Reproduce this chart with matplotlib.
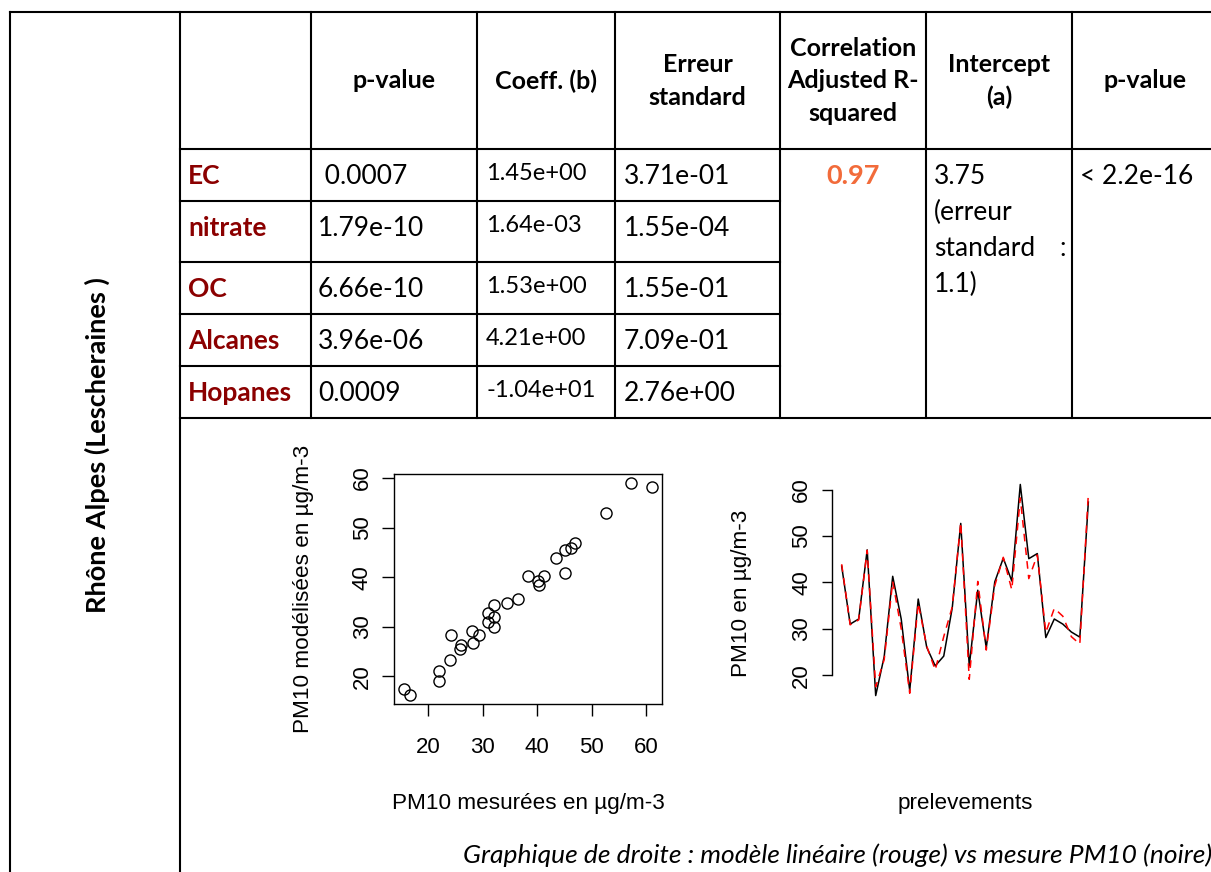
import numpy as np
import matplotlib
matplotlib.use('Agg')
import matplotlib.pyplot as plt

# tableau de la régression linéaire
row_labels = ['EC', 'nitrate', 'OC', 'Alcanes', 'Hopanes']
p_values = [' 0.0007', '1.79e-10', '6.66e-10', '3.96e-06', '0.0009']
coeffs = ['1.45e+00', '1.64e-03', '1.53e+00', '4.21e+00', '-1.04e+01']
std_errs = ['3.71e-01', '1.55e-04', '1.55e-01', '7.09e-01', '2.76e+00']
headers = ['p-value', 'Coeff. (b)', 'Erreur\nstandard',
           'Correlation\nAdjusted R-\nsquared', 'Intercept\n(a)', 'p-value']
adj_r2 = '0.97'
intercept_txt = ['3.75', '(erreur', 'standard   :', '1.1)']
global_pval = '< 2.2e-16'
site = 'Rhône Alpes (Lescheraines )'
caption = 'Graphique de droite : modèle linéaire (rouge) vs mesure PM10 (noire)'

# PM10 par prélèvement (µg/m-3)
pm10_mesure = [43.5, 31.0, 32.1, 47.0, 15.6, 24.0, 41.3, 32.1, 16.7, 36.4,
               26.0, 22.0, 24.1, 34.5, 52.7, 22.0, 38.3, 25.9, 40.1, 45.2,
               40.3, 61.1, 45.1, 46.2, 28.1, 32.1, 31.0, 29.3, 28.2, 57.3]
pm10_modele = [43.9, 30.85, 31.9, 46.9, 17.5, 23.35, 40.2, 30.0, 16.1, 35.5,
               26.25, 21.1, 28.3, 34.7, 52.9, 19.1, 40.2, 25.4, 39.3, 45.4,
               38.4, 58.2, 40.8, 45.9, 29.2, 34.4, 32.7, 28.3, 26.7, 59.05]
ticks = [20, 30, 40, 50, 60]

W, H = 1211, 872
TFONT = 'Lato'
RFONT = 'Liberation Sans'
dark_red = '#8b0000'
fs = 19  # texte du tableau

fig = plt.figure(figsize=(W / 100, H / 100), dpi=100)
ax0 = fig.add_axes([0, 0, 1, 1])
ax0.set_xlim(0, W)
ax0.set_ylim(H, 0)
ax0.axis('off')

lw = 1.5
col_x = [180, 311, 477, 615, 780, 926, 1072]
row_y = [149, 201, 262, 314, 366, 418]

# bordures
ax0.plot([10, W], [12, 12], color='black', lw=lw)
ax0.plot([10, 10], [12, H], color='black', lw=lw)
ax0.plot([180, 180], [12, H], color='black', lw=lw)
for x in col_x[1:]:
    ax0.plot([x, x], [12, 418], color='black', lw=lw)
for y in [149, 418]:
    ax0.plot([180, W], [y, y], color='black', lw=lw)
for y in row_y[1:-1]:
    ax0.plot([180, 780], [y, y], color='black', lw=lw)

# en-têtes
for i, h in enumerate(headers):
    cx = (col_x[i + 1] + (col_x[i + 2] if i + 2 < len(col_x) else 1218)) / 2
    lines = h.split('\n')
    y0 = 81 - (len(lines) - 1) * 32.5 / 2
    for k, line in enumerate(lines):
        ax0.text(cx, y0 + k * 32.5, line, ha='center', va='center',
                 fontsize=18, fontweight='bold', family=TFONT)

# lignes du tableau
for i in range(len(row_labels)):
    yc = row_y[i] + 27
    ax0.text(188, yc, row_labels[i], ha='left', va='center', fontsize=fs,
             fontweight='bold', color=dark_red, family=TFONT)
    ax0.text(318, yc, p_values[i], ha='left', va='center', fontsize=fs,
             family=TFONT)
    ax0.text(486, yc - 3, coeffs[i], ha='left', va='center', fontsize=17,
             family=TFONT)
    ax0.text(624, yc, std_errs[i], ha='left', va='center', fontsize=fs,
             family=TFONT)

ax0.text(853, 176, adj_r2, ha='center', va='center', fontsize=19.5,
         fontweight='bold', color='#f26b3a', family=TFONT)
for k, line in enumerate(intercept_txt):
    words = line.split()
    ax0.text(934, 176 + k * 36, words[0], ha='left', va='center', fontsize=fs,
             family=TFONT)
    if len(words) > 1:
        ax0.text(1066, 176 + k * 36, words[-1], ha='right', va='center',
                 fontsize=fs, family=TFONT)
ax0.text(1080, 176, global_pval, ha='left', va='center', fontsize=fs,
         family=TFONT)

ax0.text(97, 445, site, ha='center', va='center', rotation=90, fontsize=19.5,
         fontweight='bold', family=TFONT)

ax0.text(463, 855, caption, ha='left', va='center', fontsize=19,
         style='italic', family=TFONT)


def px_axes(left, right, top, bottom):
    return fig.add_axes([left / W, 1 - bottom / H, (right - left) / W, (bottom - top) / H])


# nuage de points : modélisé vs mesuré
ax1 = px_axes(394.3, 662, 474.3, 704)
ax1.plot(pm10_mesure, pm10_modele, 'o', mfc='none', mec='black', ms=8, mew=1.0)
ax1.margins(0.04)
ax1.set_xticks(ticks)
ax1.set_yticks(ticks)
for s in ax1.spines.values():
    s.set_linewidth(1.0)
ax1.tick_params(length=8.6, width=1.0, labelsize=16, pad=7)
ax1.tick_params(axis='x', pad=15)
for lab in ax1.get_xticklabels() + ax1.get_yticklabels():
    lab.set_family(RFONT)
for lab in ax1.get_yticklabels():
    lab.set_rotation(90)
    lab.set_va('center')
ax0.text(304, 589, 'PM10 modélisées en µg/m-3', rotation=90, ha='center',
         va='center', fontsize=16.2, family=RFONT)
ax0.text(528, 803, 'PM10 mesurées en µg/m-3', ha='center', va='center',
         fontsize=16.2, family=RFONT)

# série temporelle : mesure (noire) et modèle (rouge)
ax2 = px_axes(831.8, 1098.2, 476, 704)
t = np.arange(1, len(pm10_mesure) + 1)
ax2.plot(t, pm10_mesure, color='black', lw=1.1)
ax2.plot(t, pm10_modele, color='red', lw=1.1, ls=(0, (5, 4)))
ax2.set_xlim(1 - 0.04 * (len(t) - 1), len(t) + 0.04 * (len(t) - 1))
lo, hi = min(pm10_mesure), max(pm10_mesure)
ax2.set_ylim(lo - 0.04 * (hi - lo), hi + 0.04 * (hi - lo))
ax2.set_yticks(ticks)
ax2.set_xticks([])
for side in ['top', 'right', 'bottom']:
    ax2.spines[side].set_visible(False)
ax2.spines['left'].set_bounds(20, 60)
ax2.spines['left'].set_linewidth(1.0)
ax2.tick_params(axis='y', length=7.2, width=1.0, labelsize=16, pad=7)
for lab in ax2.get_yticklabels():
    lab.set_family(RFONT)
    lab.set_rotation(90)
    lab.set_va('center')
ax2.patch.set_alpha(0)
ax0.text(741.7, 593, 'PM10 en µg/m-3', rotation=90, ha='center', va='center',
         fontsize=16.2, family=RFONT)
ax0.text(965, 803, 'prelevements', ha='center', va='center', fontsize=16.2,
         family=RFONT)

fig.savefig('out.png', dpi=100)
